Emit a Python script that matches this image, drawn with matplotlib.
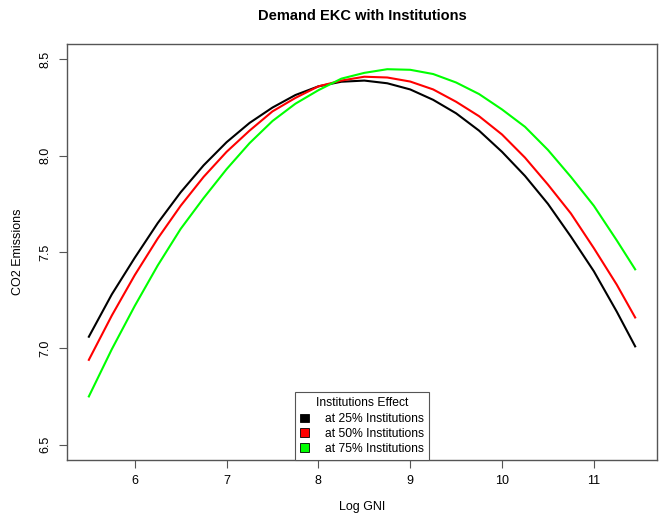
import matplotlib
matplotlib.use('Agg')
import matplotlib.pyplot as plt
from matplotlib.patches import Patch

plt.rcParams['font.family'] = ['Liberation Sans', 'DejaVu Sans']

# values
log_gni = [5.5, 5.75, 6.0, 6.25, 6.5, 6.75, 7.0, 7.25, 7.5, 7.75, 8.0, 8.25, 8.5,
           8.75, 9.0, 9.25, 9.5, 9.75, 10.0, 10.25, 10.5, 10.75, 11.0, 11.25, 11.45]
co2_25 = [7.06, 7.28, 7.47, 7.65, 7.81, 7.95, 8.07, 8.17, 8.25, 8.315, 8.36, 8.384, 8.39,
          8.376, 8.344, 8.29, 8.22, 8.13, 8.02, 7.895, 7.75, 7.58, 7.40, 7.19, 7.01]
co2_50 = [6.94, 7.17, 7.38, 7.57, 7.74, 7.89, 8.02, 8.13, 8.23, 8.30, 8.36, 8.39, 8.41,
          8.406, 8.385, 8.344, 8.28, 8.205, 8.11, 7.99, 7.85, 7.70, 7.52, 7.33, 7.16]
co2_75 = [6.75, 6.995, 7.22, 7.43, 7.62, 7.78, 7.93, 8.065, 8.18, 8.27, 8.34, 8.40, 8.43,
          8.449, 8.446, 8.424, 8.38, 8.32, 8.24, 8.15, 8.03, 7.89, 7.74, 7.56, 7.41]

series = [('at 25% Institutions', co2_25, 'black'),
          ('at 50% Institutions', co2_50, '#ff0000'),
          ('at 75% Institutions', co2_75, '#00ff00')]

fig = plt.figure(figsize=(6.66, 5.15), dpi=100)
ax = fig.add_axes([0.1006, 0.1068, 0.8859, 0.8078])

for label, vals, col in series:
    ax.plot(log_gni, vals, color=col, linewidth=1.5, solid_joinstyle='round')

x_pad = 0.04 * (11.45 - 5.5)
ax.set_xlim(5.5 - x_pad, 11.45 + x_pad)
ax.set_ylim(6.5 - 0.08, 8.5 + 0.08)
ax.set_xticks([6, 7, 8, 9, 10, 11])
ax.set_yticks([6.5, 7.0, 7.5, 8.0, 8.5])
ax.set_yticklabels(['6.5', '7.0', '7.5', '8.0', '8.5'], rotation=90, va='center')

for sp in ax.spines.values():
    sp.set_color('#555555')
    sp.set_linewidth(1.0)
ax.tick_params(direction='out', length=6, width=0.8, color='#555555',
               labelsize=9, pad=5)

ax.set_title('Demand EKC with Institutions', fontsize=10.5, fontweight='bold', pad=17)
ax.set_xlabel('Log GNI', fontsize=9, labelpad=10)
ax.set_ylabel('CO2 Emissions', fontsize=9, labelpad=11)

handles = [Patch(facecolor=c, edgecolor='black', linewidth=0.6) for _, _, c in series]
leg = ax.legend(handles, [s[0] for s in series], title='Institutions Effect',
                loc='lower center', bbox_to_anchor=(0.5, 0.0), borderaxespad=0,
                fontsize=8.7, title_fontsize=8.7, fancybox=False, framealpha=1,
                edgecolor='#555555', handlelength=0.7, handleheight=0.7,
                handletextpad=1.3, labelspacing=0.22, borderpad=0.45)
leg.get_frame().set_linewidth(0.8)
leg._legend_box.sep = 3

fig.savefig('out.png', dpi=100)
